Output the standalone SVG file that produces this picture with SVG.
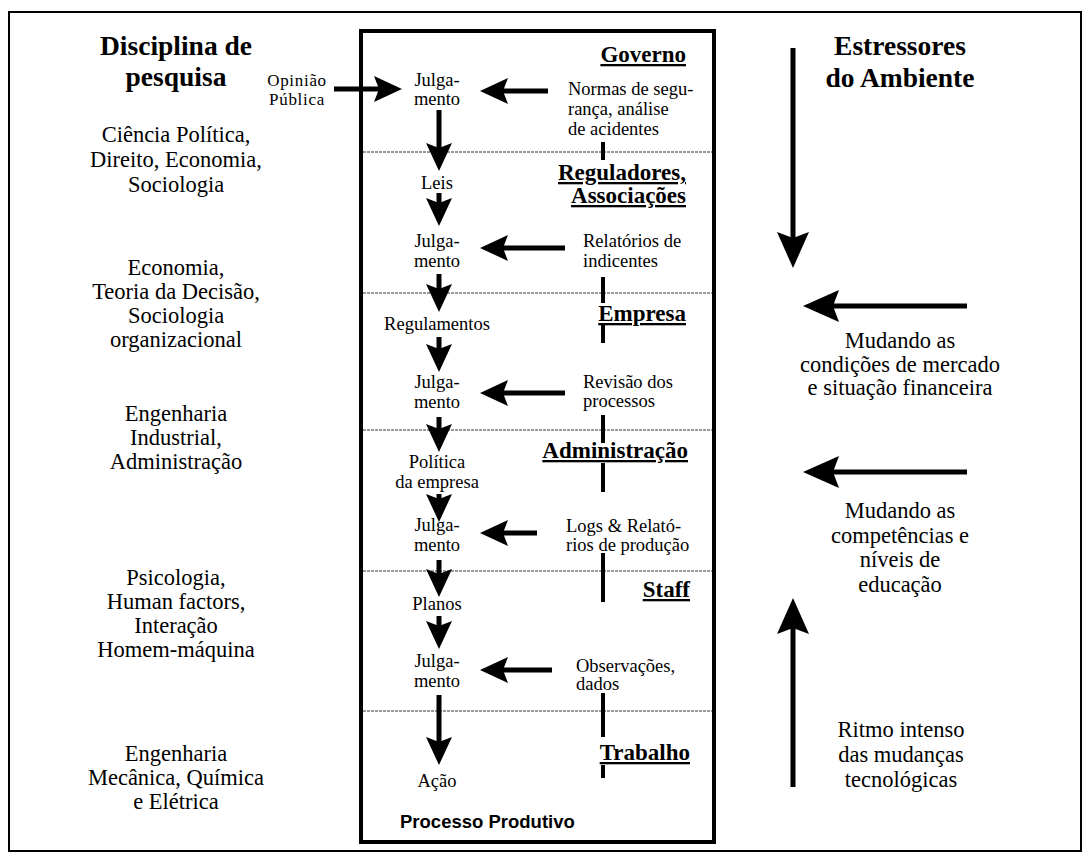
<svg xmlns="http://www.w3.org/2000/svg" width="1088" height="859" viewBox="0 0 1088 859">
  <style>
    text { font-family: 'Liberation Serif', 'DejaVu Serif', serif; fill: #000; }
    .col { font-size: 22.5px; text-anchor: middle; }
    .title { font-size: 27.5px; font-weight: bold; text-anchor: middle; }
    .step { font-size: 18.5px; text-anchor: middle; }
    .src { font-size: 18.5px; }
    .small { font-size: 17px; letter-spacing: 0.7px; text-anchor: middle; }
    .level { font-size: 23px; font-weight: bold; text-anchor: end; text-decoration: underline; }
    text.caption { font-family: 'Liberation Sans', 'DejaVu Sans', sans-serif; font-size: 18.5px; font-weight: bold; }
    .shaft { stroke: #000; stroke-width: 5; fill: none; }
    .big { stroke: #000; stroke-width: 5; fill: none; }
    .bar { stroke: #000; stroke-width: 4; }
    .divider { stroke: #333; stroke-width: 1; stroke-dasharray: 3 1; }
  </style>
  <defs>
    <marker id="head" markerUnits="userSpaceOnUse" markerWidth="30" markerHeight="28" refX="6" refY="13" orient="auto">
      <path d="M0,0 L28,13 L0,26 L5,13 Z" fill="#000"/>
    </marker>
    <marker id="headBig" markerUnits="userSpaceOnUse" markerWidth="38" markerHeight="34" refX="7" refY="16" orient="auto">
      <path d="M0,0 L36,16 L0,32 L6,16 Z" fill="#000"/>
    </marker>
  </defs>

  <rect x="0" y="0" width="1088" height="859" fill="#fff"/>

  <!-- outer frame -->
  <rect id="frame" x="9" y="12" width="1072" height="839" fill="none" stroke="#000" stroke-width="2"/>

  <!-- left column: research disciplines -->
  <g id="disciplines">
    <text class="title" x="176" y="55">Disciplina de</text>
    <text class="title" x="176" y="86">pesquisa</text>
    <g id="disc-gov" class="col">
      <text x="176" y="142">Ciência Política,</text>
      <text x="176" y="167">Direito, Economia,</text>
      <text x="176" y="192">Sociologia</text>
    </g>
    <g id="disc-reg" class="col">
      <text x="176" y="275">Economia,</text>
      <text x="176" y="299">Teoria da Decisão,</text>
      <text x="176" y="323">Sociologia</text>
      <text x="176" y="347">organizacional</text>
    </g>
    <g id="disc-adm" class="col">
      <text x="176" y="421">Engenharia</text>
      <text x="176" y="445">Industrial,</text>
      <text x="176" y="469">Administração</text>
    </g>
    <g id="disc-staff" class="col">
      <text x="176" y="585">Psicologia,</text>
      <text x="176" y="609">Human factors,</text>
      <text x="176" y="633">Interação</text>
      <text x="176" y="657">Homem-máquina</text>
    </g>
    <g id="disc-work" class="col">
      <text x="176" y="761">Engenharia</text>
      <text x="176" y="785">Mecânica, Química</text>
      <text x="176" y="809">e Elétrica</text>
    </g>
  </g>

  <!-- central box: production process -->
  <g id="process-box">
    <rect x="361" y="31" width="353" height="811" fill="none" stroke="#000" stroke-width="4"/>
    <line class="divider" x1="363" y1="152" x2="712" y2="152"/>
    <line class="divider" x1="363" y1="293" x2="712" y2="293"/>
    <line class="divider" x1="363" y1="430" x2="712" y2="430"/>
    <line class="divider" x1="363" y1="571" x2="712" y2="571"/>
    <line class="divider" x1="363" y1="711" x2="712" y2="711"/>
    <text class="caption" x="400" y="828">Processo Produtivo</text>
  </g>

  <g id="opiniao">
    <text class="small" x="297" y="86">Opinião</text>
    <text class="small" x="297" y="105">Pública</text>
  </g>

  <!-- decision chain -->
  <g id="julgamento-1" class="step"><text x="437" y="86">Julga-</text><text x="437" y="105">mento</text></g>
  <g id="leis" class="step"><text x="437" y="189">Leis</text></g>
  <g id="julgamento-2" class="step"><text x="437" y="247">Julga-</text><text x="437" y="267">mento</text></g>
  <g id="regulamentos" class="step"><text x="437" y="330">Regulamentos</text></g>
  <g id="julgamento-3" class="step"><text x="437" y="388">Julga-</text><text x="437" y="408">mento</text></g>
  <g id="politica" class="step"><text x="437" y="468">Política</text><text x="437" y="488">da empresa</text></g>
  <g id="julgamento-4" class="step"><text x="437" y="531">Julga-</text><text x="437" y="551">mento</text></g>
  <g id="planos" class="step"><text x="437" y="610">Planos</text></g>
  <g id="julgamento-5" class="step"><text x="437" y="667">Julga-</text><text x="437" y="687">mento</text></g>
  <g id="acao" class="step"><text x="437" y="787">Ação</text></g>

  <!-- levels and their feedback sources -->
  <g id="governo">
    <text class="level" x="686" y="62">Governo</text>
    <text class="src" x="568" y="95">Normas de segu-</text>
    <text class="src" x="568" y="115">rança, análise</text>
    <text class="src" x="568" y="135">de acidentes</text>
  </g>
  <g id="reguladores">
    <text class="level" x="686" y="180">Reguladores,</text>
    <text class="level" x="686" y="203">Associações</text>
    <text class="src" x="583" y="247">Relatórios de</text>
    <text class="src" x="583" y="267">indicentes</text>
  </g>
  <g id="empresa">
    <text class="level" x="686" y="321">Empresa</text>
    <text class="src" x="583" y="388">Revisão dos</text>
    <text class="src" x="583" y="407">processos</text>
  </g>
  <g id="administracao">
    <text class="level" x="688" y="458">Administração</text>
    <text class="src" x="566" y="532">Logs &amp; Relató-</text>
    <text class="src" x="566" y="551">rios de produção</text>
  </g>
  <g id="staff">
    <text class="level" x="690" y="597">Staff</text>
    <text class="src" x="576" y="672">Observações,</text>
    <text class="src" x="576" y="690">dados</text>
  </g>
  <g id="trabalho">
    <text class="level" x="690" y="760">Trabalho</text>
  </g>

  <!-- right column: environmental stressors -->
  <g id="stressors">
    <text class="title" x="900" y="55">Estressores</text>
    <text class="title" x="900" y="87">do Ambiente</text>
  </g>
  <g id="stress-market" class="col">
    <text x="900" y="348">Mudando as</text>
    <text x="900" y="372">condições de mercado</text>
    <text x="900" y="395">e situação financeira</text>
  </g>
  <g id="stress-skills" class="col">
    <text x="900" y="518">Mudando as</text>
    <text x="900" y="543">competências e</text>
    <text x="900" y="567">níveis de</text>
    <text x="900" y="592">educação</text>
  </g>
  <g id="stress-tech" class="col">
    <text x="901" y="737">Ritmo intenso</text>
    <text x="901" y="762">das mudanças</text>
    <text x="901" y="787">tecnológicas</text>
  </g>

  <g id="connectors">
    <!-- downward chain -->
    <line class="shaft" x1="439" y1="110" x2="439" y2="149" marker-end="url(#head)"/>
    <line class="shaft" x1="439" y1="193" x2="439" y2="204" marker-end="url(#head)"/>
    <line class="shaft" x1="439" y1="274" x2="439" y2="290" marker-end="url(#head)"/>
    <line class="shaft" x1="439" y1="337" x2="439" y2="350" marker-end="url(#head)"/>
    <line class="shaft" x1="439" y1="417" x2="439" y2="430" marker-end="url(#head)"/>
    <line class="shaft" x1="439" y1="494" x2="439" y2="500" marker-end="url(#head)"/>
    <line class="shaft" x1="439" y1="560" x2="439" y2="575" marker-end="url(#head)"/>
    <line class="shaft" x1="439" y1="616" x2="439" y2="627" marker-end="url(#head)"/>
    <line class="shaft" x1="439" y1="695" x2="439" y2="743" marker-end="url(#head)"/>
    <!-- feedback into judgements -->
    <line class="shaft" x1="334" y1="89" x2="380" y2="89" marker-end="url(#head)"/>
    <line class="shaft" x1="548" y1="91" x2="502" y2="91" marker-end="url(#head)"/>
    <line class="shaft" x1="565" y1="248" x2="502" y2="248" marker-end="url(#head)"/>
    <line class="shaft" x1="565" y1="393" x2="502" y2="393" marker-end="url(#head)"/>
    <line class="shaft" x1="537" y1="533" x2="502" y2="533" marker-end="url(#head)"/>
    <line class="shaft" x1="552" y1="670" x2="502" y2="670" marker-end="url(#head)"/>
    <!-- level links -->
    <line class="bar" x1="603" y1="142" x2="603" y2="160"/>
    <line class="bar" x1="603" y1="277" x2="603" y2="303"/>
    <line class="bar" x1="603" y1="325" x2="603" y2="343"/>
    <line class="bar" x1="603" y1="415" x2="603" y2="443"/>
    <line class="bar" x1="603" y1="463" x2="603" y2="492"/>
    <line class="bar" x1="603" y1="553" x2="603" y2="602"/>
    <line class="bar" x1="603" y1="693" x2="603" y2="737"/>
    <line class="bar" x1="603" y1="765" x2="603" y2="778"/>
    <!-- stressor arrows -->
    <line class="big" x1="793" y1="48" x2="793" y2="239" marker-end="url(#headBig)"/>
    <line class="big" x1="967" y1="306" x2="832" y2="306" marker-end="url(#headBig)"/>
    <line class="big" x1="967" y1="472" x2="832" y2="472" marker-end="url(#headBig)"/>
    <line class="big" x1="793" y1="787" x2="793" y2="627" marker-end="url(#headBig)"/>
  </g>
</svg>
